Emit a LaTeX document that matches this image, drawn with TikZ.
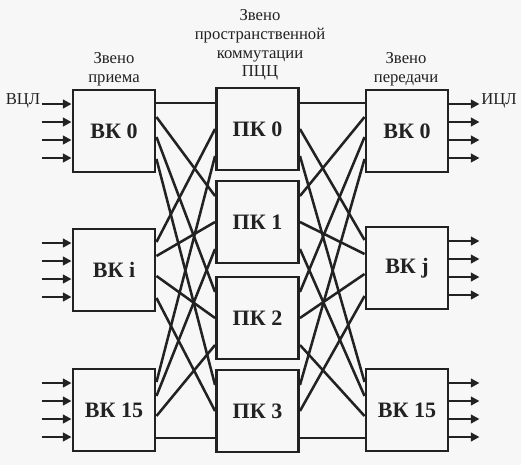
\documentclass[tikz,border=0pt]{standalone}
\usepackage{fontspec}
\setmainfont{Liberation Serif}
\usetikzlibrary{arrows.meta}
\definecolor{paper}{RGB}{247,247,247}
\definecolor{ink}{RGB}{34,34,34}
\tikzset{
    switchbox/.style={draw=ink, line width=2.2pt, minimum width=61.5pt, minimum height=61.5pt,
        inner sep=0pt, text=ink, font=\fontsize{16.5}{18}\selectfont\bfseries},
    stagelabel/.style={align=center, text=ink, font=\fontsize{12.5}{14}\selectfont},
    link/.style={draw=ink, line width=1.9pt},
}
\begin{document}
\begin{tikzpicture}[x=0.75pt, y=-0.75pt, >={Triangle[length=6.5pt,width=6.5pt]}]
    \fill[paper] (0,0) rectangle (521,465);
    \useasboundingbox (0,0) rectangle (521,465);

    \begin{scope}
        \node[switchbox] (vkl0) at (114,131) {ВК 0};
        \node[switchbox] (vkl1) at (114,270) {ВК i};
        \node[switchbox] (vkl2) at (114,410) {ВК 15};

        \node[switchbox] (pk0) at (257.5,129) {ПК 0};
        \node[switchbox] (pk1) at (257.5,222) {ПК 1};
        \node[switchbox] (pk2) at (257.5,318) {ПК 2};
        \node[switchbox] (pk3) at (257.5,411) {ПК 3};

        \node[switchbox] (vkr0) at (407,131) {ВК 0};
        \node[switchbox] (vkr1) at (407,268) {ВК j};
        \node[switchbox] (vkr2) at (407,410) {ВК 15};
    \end{scope}

    \node[stagelabel] (rxlabel) at (114,69) {Звено\\приема};
    \node[stagelabel] (swlabel) at (260,45) {Звено\\пространственной\\коммутации\\ПЦЦ};
    \node[stagelabel] (txlabel) at (406,69) {Звено\\передачи};
    \node[stagelabel] (vcl) at (23,101) {ВЦЛ};
    \node[stagelabel] (icl) at (499,101) {ИЦЛ};

    \foreach \k/\po in {0/19.5, 1/0, 2/-20.25}
        \foreach \m/\bo in {0/21, 1/10.5, 2/-4.5, 3/-21} {
            \draw[link] ([yshift=\bo pt]vkl\k.east) -- ([yshift=\po pt]pk\m.west);
            \draw[link] ([yshift=\po pt]pk\m.east) -- ([yshift=\bo pt]vkr\k.west);
        }

    \foreach \k in {0,1,2}
        \foreach \a in {20.25, 6.75, -6.75, -20.25} {
            \draw[link, ->] ([xshift=-22.5pt, yshift=\a pt]vkl\k.west) -- ([yshift=\a pt]vkl\k.west);
            \draw[link, ->] ([yshift=\a pt]vkr\k.east) -- ([xshift=22.5pt, yshift=\a pt]vkr\k.east);
        }
\end{tikzpicture}
\end{document}
